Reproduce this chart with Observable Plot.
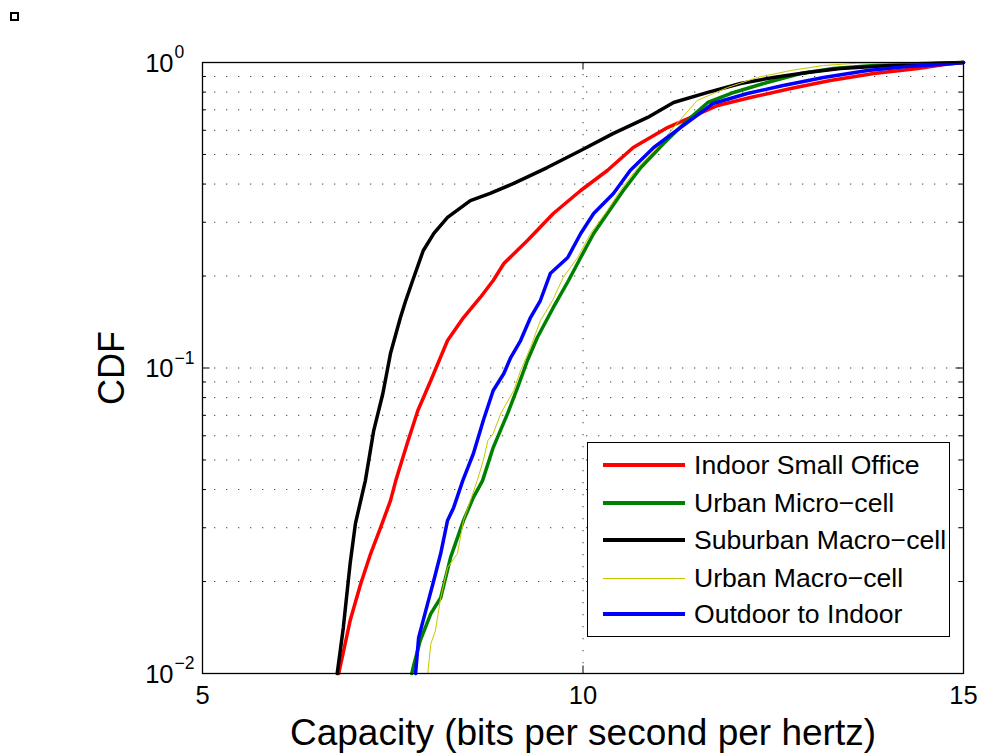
<!DOCTYPE html>
<html><head><meta charset="utf-8">
<script src="https://cdn.jsdelivr.net/npm/d3@7"></script>
<script src="https://cdn.jsdelivr.net/npm/@observablehq/plot@0.6"></script>
<style>
body{margin:0;background:#fff;}
#wrap{position:relative;width:982px;height:753px;font-family:"Liberation Sans",Arial,sans-serif;}
#mark{position:absolute;left:10px;top:12px;width:5px;height:5px;border:2px solid #000;}
#legend{position:absolute;left:587px;top:442px;width:361px;height:193px;border:1px solid #000;background:#fff;}
.sw{position:absolute;left:15px;width:82px;}
.lt{position:absolute;left:106px;font-size:26.6px;line-height:30px;white-space:nowrap;color:#000;}
</style></head>
<body><div id="wrap"><div id="mark"></div></div>
<script>
// ---- data ----
const seriesNames = ["Indoor Small Office","Urban Micro-cell","Suburban Macro-cell","Urban Macro-cell","Outdoor to Indoor"];
const legendNames = ["Indoor Small Office","Urban Micro\u2212cell","Suburban Macro\u2212cell","Urban Macro\u2212cell","Outdoor to Indoor"];
const seriesColors = ["#ff0000","#008000","#000000","#c8c800","#0000ff"];
const seriesWidths = [3.5,3.5,3.5,1,3.5];

const indoorCap = [6.79,6.94,7.08,7.21,7.34,7.47,7.54,7.69,7.83,8.00,8.22,8.43,8.65,8.82,8.96,9.27,9.61,9.97,10.32,10.66,11.11,11.77,12.20,12.73,13.25,13.82,14.40,14.75,15];
const indoorCdf = [0.0100,0.0149,0.0197,0.0247,0.0300,0.0368,0.0428,0.0566,0.0726,0.0910,0.1230,0.1463,0.1702,0.1934,0.2198,0.2615,0.3204,0.3811,0.4430,0.5270,0.6125,0.7233,0.7679,0.8219,0.8731,0.9203,0.9558,0.985,1];

const umiCap = [7.75,7.77,7.86,8.00,8.13,8.26,8.43,8.56,8.68,8.82,9.01,9.14,9.27,9.40,9.61,9.81,9.97,10.14,10.32,10.53,10.76,11.06,11.37,11.64,11.98,12.42,12.86,13.29,13.82,14.47,15];
const umiCdf = [0.0100,0.0105,0.0128,0.0157,0.0177,0.0240,0.0317,0.0377,0.0428,0.0549,0.0710,0.0863,0.1058,0.1258,0.1578,0.1934,0.2300,0.2756,0.3204,0.3811,0.4532,0.5430,0.6457,0.7397,0.7979,0.860,0.9203,0.9558,0.9777,0.9925,1];

const smaCap = [6.77,6.85,6.94,7.01,7.14,7.25,7.37,7.47,7.60,7.67,7.77,7.90,8.04,8.22,8.52,8.78,9.09,9.53,9.97,10.40,10.85,11.19,11.64,12.07,12.50,12.95,13.38,13.82,14.26,15];
const smaCdf = [0.0100,0.0141,0.0229,0.0310,0.0428,0.0624,0.0825,0.1115,0.146,0.166,0.196,0.242,0.276,0.311,0.353,0.373,0.402,0.453,0.515,0.586,0.661,0.740,0.798,0.854,0.893,0.927,0.956,0.970,0.985,1];

const umaCap = [7.96,8.00,8.06,8.13,8.22,8.35,8.43,8.52,8.61,8.69,8.75,8.82,8.92,9.09,9.18,9.31,9.44,9.60,9.74,9.93,10.10,10.32,10.49,10.72,10.98,11.19,11.50,11.90,12.29,12.73,13.16,13.61,15];
const umaCdf = [0.0100,0.0125,0.0138,0.0177,0.0222,0.0247,0.0317,0.0368,0.0428,0.0498,0.0579,0.0610,0.0710,0.0844,0.0981,0.1167,0.1430,0.1663,0.1978,0.2300,0.2756,0.3279,0.3811,0.4532,0.5270,0.6125,0.7510,0.8283,0.8932,0.9415,0.9777,0.995,1];

const o2iCap = [7.80,7.84,7.96,8.04,8.13,8.22,8.30,8.42,8.56,8.69,8.82,8.96,9.05,9.18,9.31,9.44,9.57,9.80,9.97,10.14,10.40,10.62,10.93,11.28,11.71,12.16,12.63,13.16,13.74,14.26,14.70,15];
const o2iCdf = [0.0100,0.0131,0.0170,0.0202,0.0247,0.0317,0.0349,0.0428,0.0525,0.0673,0.0844,0.0959,0.1082,0.1230,0.1463,0.1663,0.2038,0.2300,0.2756,0.3204,0.3726,0.4430,0.5270,0.6125,0.7340,0.7917,0.8408,0.8932,0.9415,0.9703,0.985,1];

const xTicks = [5,10,15];
const xGrid = [10];
const yMajor = [0.01,0.1,1];
const yExp = ["\u22122","\u22121","0"];
const yMinor = [0.02,0.03,0.04,0.05,0.06,0.07,0.08,0.09,0.2,0.3,0.4,0.5,0.6,0.7,0.8,0.9];
const yGrid = [0.02,0.03,0.04,0.05,0.06,0.07,0.08,0.09,0.1,0.2,0.3,0.4,0.5,0.6,0.7,0.8,0.9];
const xLabel = "Capacity (bits per second per hertz)";
const yLabel = "CDF";

// ---- build ----
const caps = [indoorCap, umiCap, smaCap, umaCap, o2iCap];
const cdfs = [indoorCdf, umiCdf, smaCdf, umaCdf, o2iCdf];
const W = 982, H = 753, mL = 202, mR = 19, mT = 62, mB = 80;
const pw = W - mL - mR, ph = H - mT - mB;
const font = "Liberation Sans, Arial, sans-serif";

const lineMarks = seriesNames.map((name, i) =>
  Plot.line(caps[i].map((c, j) => ({x: c, y: cdfs[i][j]})), {
    x: "x", y: "y", stroke: seriesColors[i], strokeWidth: seriesWidths[i]
  })
);

const dots = {stroke: "#404040", strokeWidth: 1, strokeDasharray: "1.3,10.7"};

const chart = Plot.plot({
  width: W, height: H,
  marginLeft: mL, marginRight: mR, marginTop: mT, marginBottom: mB,
  style: {fontFamily: font, background: "transparent", color: "black", overflow: "visible"},
  x: {domain: [5, 15], axis: null},
  y: {type: "log", domain: [0.01, 1], axis: null},
  marks: [
    Plot.ruleY(yGrid, {y: d => d, ...dots}),
    Plot.ruleX(xGrid, {x: d => d, ...dots}),
    ...lineMarks,
    Plot.tickY(yMajor, {y: d => d, insetRight: pw - 7.5, stroke: "black"}),
    Plot.tickY(yMajor, {y: d => d, insetLeft: pw - 7.5, stroke: "black"}),
    Plot.tickY(yMinor, {y: d => d, insetRight: pw - 4, stroke: "black"}),
    Plot.tickY(yMinor, {y: d => d, insetLeft: pw - 4, stroke: "black"}),
    Plot.tickX(xTicks, {x: d => d, insetTop: ph - 7.5, stroke: "black"}),
    Plot.tickX(xTicks, {x: d => d, insetBottom: ph - 7.5, stroke: "black"}),
    Plot.frame({stroke: "black", strokeWidth: 1.3}),
    Plot.text(yMajor, {y: d => d, frameAnchor: "left", text: () => "10", textAnchor: "end", dx: -29, dy: 1, fontSize: 25.5, fill: "black"}),
    Plot.text(yMajor, {y: d => d, frameAnchor: "left", text: (d, i) => yExp[i], textAnchor: "start", dx: -28, dy: -10, fontSize: 17.5, fill: "black"}),
    Plot.text(xTicks, {x: d => d, frameAnchor: "bottom", text: d => String(d), dy: 30, fontSize: 25.5, fill: "black"}),
    Plot.text([xLabel], {frameAnchor: "bottom", text: d => d, dy: 71, fontSize: 37, fill: "black"}),
    Plot.text([yLabel], {frameAnchor: "left", text: d => d, textAnchor: "middle", dx: -90, rotate: -90, fontSize: 36, fill: "black"})
  ]
});
chart.style.position = "absolute";
chart.style.left = "0px";
chart.style.top = "0px";
const wrap = document.getElementById("wrap");
wrap.appendChild(chart);

// legend
const legend = document.createElement("div");
legend.id = "legend";
const rowY = [22, 60, 97, 135, 171];
legendNames.forEach((n, i) => {
  const sw = document.createElement("div");
  sw.className = "sw";
  sw.style.top = (rowY[i] - seriesWidths[i] / 2) + "px";
  sw.style.height = seriesWidths[i] + "px";
  sw.style.background = seriesColors[i];
  legend.appendChild(sw);
  const t = document.createElement("div");
  t.className = "lt";
  t.style.top = (rowY[i] - 15) + "px";
  t.textContent = n;
  legend.appendChild(t);
});
wrap.appendChild(legend);
</script>
</body></html>
